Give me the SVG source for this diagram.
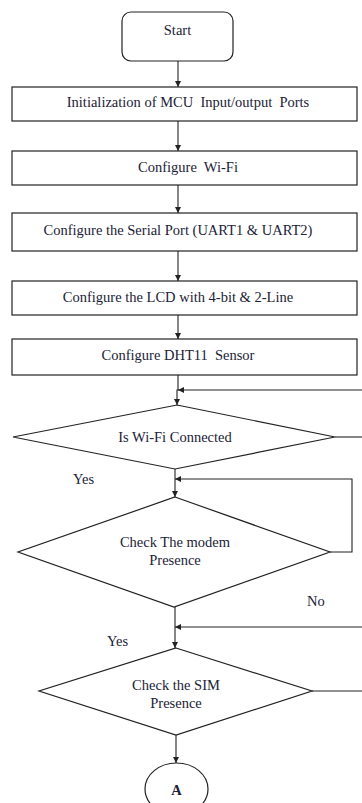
<svg xmlns="http://www.w3.org/2000/svg" width="362" height="803" viewBox="0 0 362 803">
  <style>
    .shape { fill: #ffffff; stroke: #222222; stroke-width: 1.2; }
    .line { fill: none; stroke: #222222; stroke-width: 1.1; }
    .lbl { font-family: "Liberation Serif", "Times New Roman", serif; font-size: 14.5px; fill: #1b2236; text-anchor: middle; }
    .free { font-family: "Liberation Serif", "Times New Roman", serif; font-size: 14.5px; fill: #1b2236; }
  </style>
  <defs>
    <marker id="arrow" viewBox="0 0 10 10" refX="10" refY="5" markerWidth="6" markerHeight="6" orient="auto" markerUnits="userSpaceOnUse">
      <path d="M0,0 L10,5 L0,10 z" fill="#222222"/>
    </marker>
  </defs>
  <rect width="362" height="803" fill="#ffffff"/>

  <g id="connectors">
    <line class="line" x1="178" y1="61" x2="178" y2="87" marker-end="url(#arrow)"/>
    <line class="line" x1="178" y1="121" x2="178" y2="151" marker-end="url(#arrow)"/>
    <line class="line" x1="178" y1="185" x2="178" y2="213" marker-end="url(#arrow)"/>
    <line class="line" x1="178" y1="251" x2="178" y2="281" marker-end="url(#arrow)"/>
    <line class="line" x1="178" y1="315" x2="178" y2="339" marker-end="url(#arrow)"/>
    <polyline class="line" points="178,375 178,390 177,390 177,405" marker-end="url(#arrow)"/>
    <!-- retry loop into Wi-Fi check -->
    <line class="line" x1="362" y1="390" x2="178" y2="390" marker-end="url(#arrow)"/>
    <line class="line" x1="335" y1="437" x2="362" y2="437"/>
    <!-- Yes path to modem check -->
    <line class="line" x1="175" y1="469" x2="175" y2="497" marker-end="url(#arrow)"/>
    <polyline class="line" points="330,552 352,552 352,479 175,479" marker-end="url(#arrow)"/>
    <!-- modem to SIM check -->
    <line class="line" x1="175" y1="607" x2="175" y2="648" marker-end="url(#arrow)"/>
    <line class="line" x1="362" y1="627" x2="175" y2="627" marker-end="url(#arrow)"/>
    <line class="line" x1="312" y1="691" x2="362" y2="691"/>
    <!-- SIM check to connector A -->
    <line class="line" x1="176" y1="735" x2="176" y2="763" marker-end="url(#arrow)"/>
  </g>

  <g id="start">
    <rect class="shape" x="122" y="12" width="111" height="49" rx="9" ry="9"/>
    <text class="lbl" x="177.5" y="35">Start</text>
  </g>

  <g id="init-ports">
    <rect class="shape" x="12" y="87" width="345" height="34"/>
    <text class="lbl" x="188" y="107" xml:space="preserve">Initialization of MCU  Input/output  Ports</text>
  </g>

  <g id="config-wifi">
    <rect class="shape" x="12" y="151" width="345" height="34"/>
    <text class="lbl" x="188" y="172" xml:space="preserve">Configure  Wi-Fi</text>
  </g>

  <g id="config-serial">
    <rect class="shape" x="12" y="213" width="345" height="38"/>
    <text class="lbl" x="178" y="235">Configure the Serial Port (UART1 &amp; UART2)</text>
  </g>

  <g id="config-lcd">
    <rect class="shape" x="12" y="281" width="345" height="34"/>
    <text class="lbl" x="178" y="302">Configure the LCD with 4-bit &amp; 2-Line</text>
  </g>

  <g id="config-dht11">
    <rect class="shape" x="12" y="339" width="345" height="36"/>
    <text class="lbl" x="178" y="360" xml:space="preserve">Configure DHT11  Sensor</text>
  </g>

  <g id="wifi-check">
    <polygon class="shape" points="177,405 335,437 175,469 13,437"/>
    <text class="lbl" x="175" y="442">Is Wi-Fi Connected</text>
  </g>
  <text class="free" x="73" y="484">Yes</text>

  <g id="modem-check">
    <polygon class="shape" points="175,497 330,552 174,607 18,552"/>
    <text class="lbl" x="175" y="547">Check The modem</text>
    <text class="lbl" x="175" y="565">Presence</text>
  </g>
  <text class="free" x="307" y="606">No</text>
  <text class="free" x="107" y="646">Yes</text>

  <g id="sim-check">
    <polygon class="shape" points="176,648 312,691 176,735 39,691"/>
    <text class="lbl" x="176" y="690">Check the SIM</text>
    <text class="lbl" x="176" y="708">Presence</text>
  </g>

  <g id="connector-a">
    <ellipse class="shape" cx="176.5" cy="789" rx="31.5" ry="26"/>
    <text class="lbl" x="176.5" y="795" font-weight="bold">A</text>
  </g>
</svg>
